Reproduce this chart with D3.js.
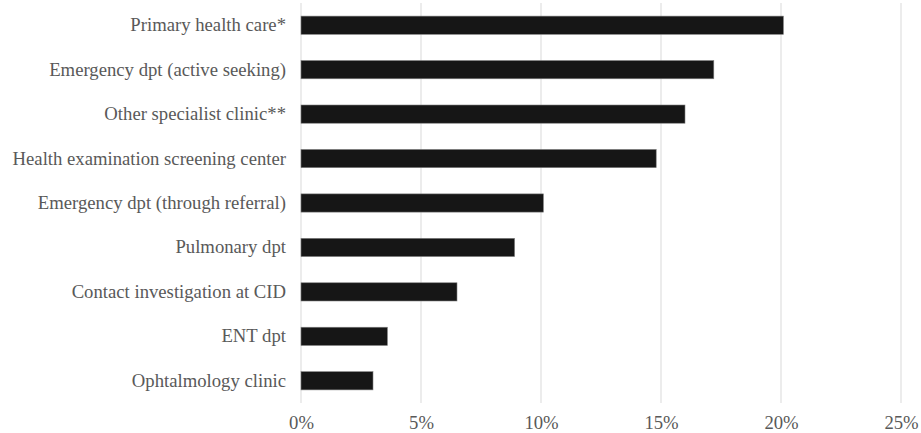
<!DOCTYPE html>
<html><head><meta charset="utf-8">
<script src="https://cdn.jsdelivr.net/npm/d3@7"></script>
<style>body{margin:0;background:#fff}svg{display:block}
svg text{font-family:"Liberation Serif","Tinos","Times New Roman","DejaVu Serif",serif !important;fill:#595959}</style>
</head><body>
<script>
const categories = ["Primary health care*","Emergency dpt (active seeking)","Other specialist clinic**","Health examination screening center","Emergency dpt (through referral)","Pulmonary dpt","Contact investigation at CID","ENT dpt","Ophtalmology clinic"];
const values = [20.1,17.2,16.0,14.8,10.1,8.9,6.5,3.6,3.0];
const xTicks = [0,5,10,15,20,25];

const W=921,H=433;
const svg=d3.select("body").append("svg").attr("width",W).attr("height",H);
const x=d3.scaleLinear().domain([0,25]).range([301,901]);
const y=d3.scaleBand().domain(categories).range([3,403]).paddingInner(0.59).paddingOuter(0.295);
const fs=18.7;

svg.append("g").selectAll("line").data(xTicks).join("line")
  .attr("x1",d=>x(d)).attr("x2",d=>x(d)).attr("y1",3).attr("y2",403)
  .attr("stroke","#d9d9d9").attr("stroke-width",1);

svg.append("g").selectAll("rect").data(values).join("rect")
  .attr("x",x(0)).attr("y",(d,i)=>y(categories[i]))
  .attr("width",d=>x(d)-x(0)).attr("height",y.bandwidth())
  .attr("fill","#161616").attr("stroke","#7f7f7f").attr("stroke-width",0.6);

const xa=svg.append("g").attr("transform","translate(0,413)")
  .call(d3.axisBottom(x).tickValues(xTicks).tickFormat(d=>d+"%").tickSize(0));
xa.select(".domain").remove();
xa.selectAll("text").style("font-size",fs+"px").attr("dy","0.71em");

const ya=svg.append("g").attr("transform","translate(286,0)")
  .call(d3.axisLeft(y).tickSize(0).tickPadding(0));
ya.select(".domain").remove();
ya.selectAll("text").style("font-size",fs+"px");
</script>
</body></html>
